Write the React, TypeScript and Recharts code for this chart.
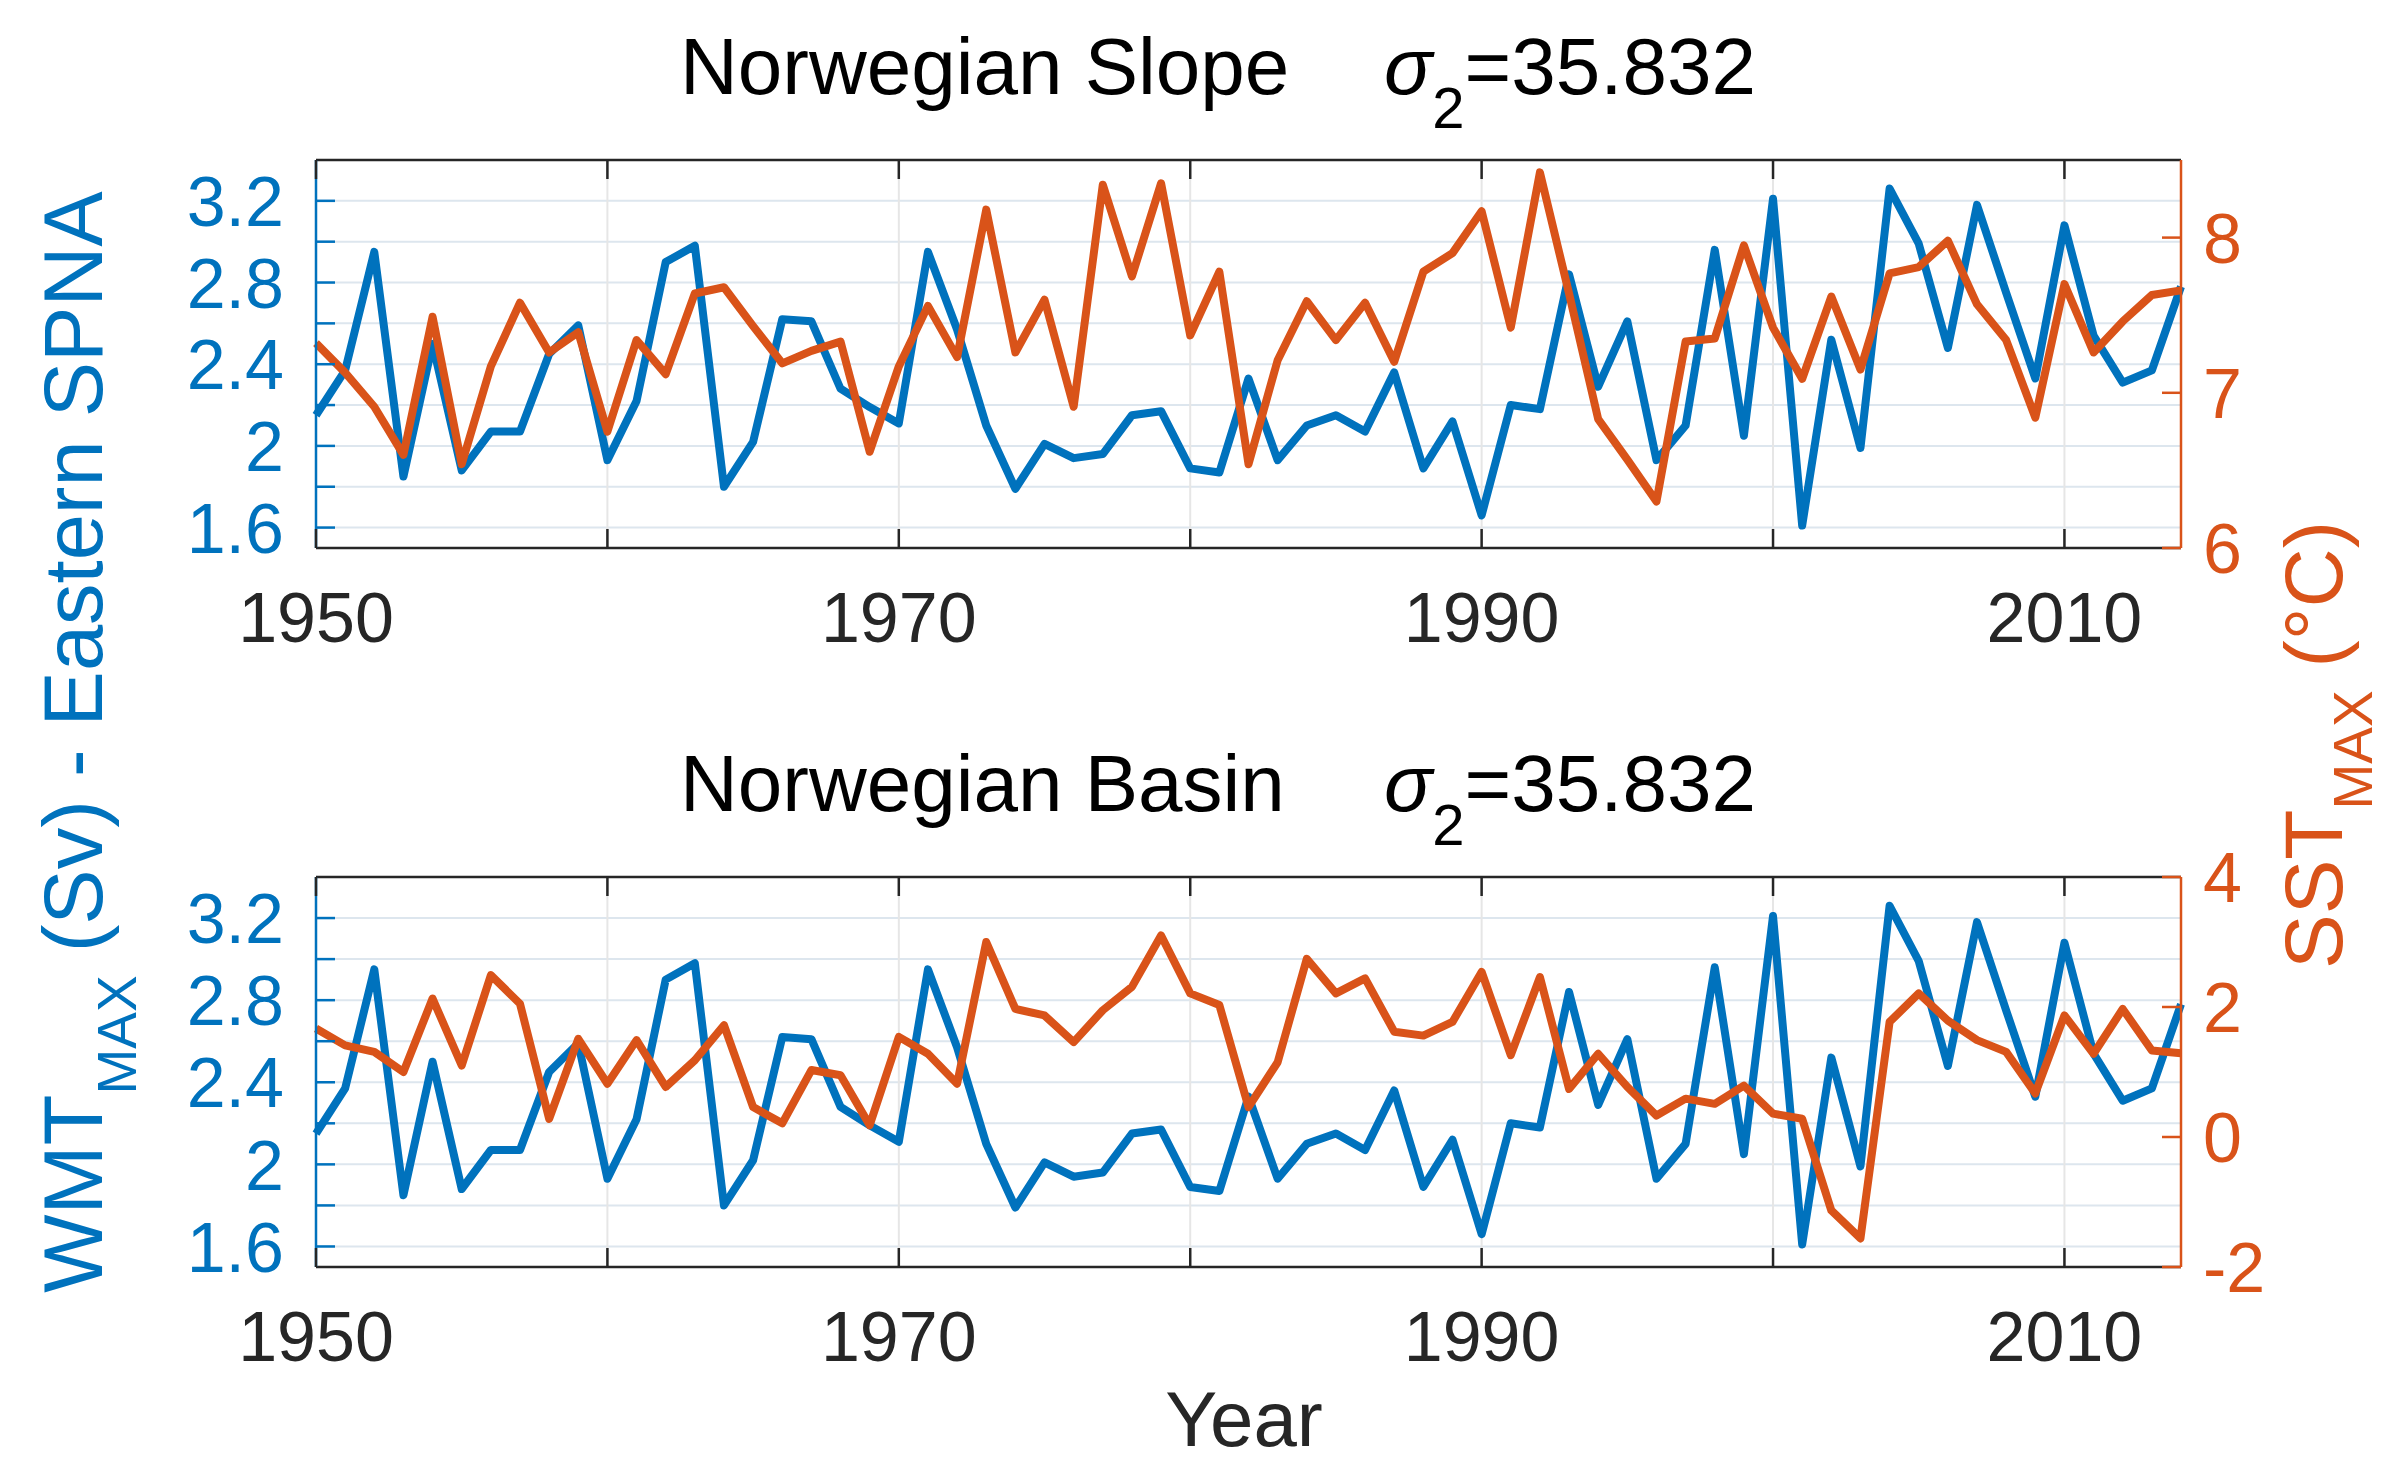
import React from 'react';
import { LineChart, Line, XAxis, YAxis, CartesianGrid } from 'recharts';

const FONT = '"Liberation Sans", Arial, Helvetica, sans-serif';
const BLUE = '#0072BD';
const ORANGE = '#D95319';
const DARK = '#262626';
const TICK = 19;

const years = [
  1950, 1951, 1952, 1953, 1954, 1955, 1956, 1957, 1958, 1959,
  1960, 1961, 1962, 1963, 1964, 1965, 1966, 1967, 1968, 1969,
  1970, 1971, 1972, 1973, 1974, 1975, 1976, 1977, 1978, 1979,
  1980, 1981, 1982, 1983, 1984, 1985, 1986, 1987, 1988, 1989,
  1990, 1991, 1992, 1993, 1994, 1995, 1996, 1997, 1998, 1999,
  2000, 2001, 2002, 2003, 2004, 2005, 2006, 2007, 2008, 2009,
  2010, 2011, 2012, 2013, 2014,
];

// WMT_MAX (Sv), Eastern SPNA - same series in both panels
const wmt = [
  2.15, 2.37, 2.95, 1.85, 2.50, 1.88, 2.07, 2.07, 2.45, 2.59,
  1.93, 2.22, 2.90, 2.98, 1.80, 2.02, 2.62, 2.61, 2.28, 2.19,
  2.11, 2.95, 2.57, 2.10, 1.79, 2.01, 1.94, 1.96, 2.15, 2.17,
  1.89, 1.87, 2.33, 1.93, 2.10, 2.15, 2.07, 2.36, 1.89, 2.12,
  1.66, 2.20, 2.18, 2.84, 2.29, 2.61, 1.93, 2.10, 2.96, 2.05,
  3.21, 1.61, 2.52, 1.99, 3.26, 2.99, 2.48, 3.18, 2.75, 2.33,
  3.08, 2.54, 2.31, 2.37, 2.78,
];

// SST_MAX (degC), Norwegian Slope
const sstSlope = [
  7.32, 7.13, 6.91, 6.60, 7.49, 6.54, 7.17, 7.58, 7.26, 7.39,
  6.75, 7.34, 7.12, 7.64, 7.68, 7.43, 7.19, 7.27, 7.33, 6.62,
  7.17, 7.56, 7.23, 8.18, 7.26, 7.60, 6.91, 8.34, 7.75, 8.35,
  7.37, 7.78, 6.54, 7.21, 7.59, 7.34, 7.58, 7.20, 7.78, 7.90,
  8.17, 7.42, 8.42, 7.64, 6.83, 6.57, 6.30, 7.33, 7.35, 7.95,
  7.42, 7.09, 7.62, 7.15, 7.77, 7.81, 7.98, 7.57, 7.34, 6.84,
  7.70, 7.26, 7.46, 7.63, 7.66,
];

// SST_MAX (degC), Norwegian Basin
const sstBasin = [
  1.67, 1.41, 1.31, 1.00, 2.13, 1.10, 2.49, 2.05, 0.28, 1.51,
  0.82, 1.49, 0.77, 1.18, 1.72, 0.46, 0.21, 1.03, 0.95, 0.18,
  1.54, 1.28, 0.82, 3.00, 1.97, 1.87, 1.46, 1.95, 2.31, 3.10,
  2.21, 2.03, 0.46, 1.15, 2.74, 2.21, 2.44, 1.62, 1.56, 1.77,
  2.54, 1.26, 2.46, 0.74, 1.28, 0.77, 0.33, 0.59, 0.51, 0.79,
  0.36, 0.28, -1.13, -1.56, 1.77, 2.21, 1.79, 1.49, 1.31, 0.67,
  1.87, 1.28, 1.97, 1.33, 1.29,
];

const yearTicks = [1950, 1960, 1970, 1980, 1990, 2000, 2010];
const yearLabels = [1950, 1970, 1990, 2010];
const wmtTicks = [1.6, 1.8, 2, 2.2, 2.4, 2.6, 2.8, 3, 3.2];
const wmtLabels = ['1.6', '2', '2.4', '2.8', '3.2'];
const slopeTicks = [6, 7, 8];
const basinTicks = [-2, 0, 2, 4];

const slopeData = years.map((year, i) => ({ year, wmt: wmt[i], sst: sstSlope[i] }));
const basinData = years.map((year, i) => ({ year, wmt: wmt[i], sst: sstBasin[i] }));

const W = 2385;
const H = 1463;
const PLOT_LEFT = 316;
const PLOT_RIGHT = 2181;
const AXIS_W = 60;
const AXIS_H = 30;

const BottomTick = ({ x, y, payload }: any) => (
  <g>
    <line x1={x} x2={x} y1={y} y2={y - TICK} stroke={DARK} strokeWidth={2.5} />
    {yearLabels.includes(payload.value) && (
      <text x={x} y={y + 94} textAnchor="middle" fontSize={70} fill={DARK} fontFamily={FONT}>
        {payload.value}
      </text>
    )}
  </g>
);

const TopTick = ({ x, y }: any) => (
  <line x1={x} x2={x} y1={y} y2={y + TICK} stroke={DARK} strokeWidth={2.5} />
);

const LeftTick = ({ x, y, payload }: any) => (
  <g>
    <line x1={x} x2={x + TICK} y1={y} y2={y} stroke={BLUE} strokeWidth={2.5} />
    {wmtLabels.includes(String(payload.value)) && (
      <text x={x - 32} y={y} dy="0.36em" textAnchor="end" fontSize={70} fill={BLUE} fontFamily={FONT}>
        {payload.value}
      </text>
    )}
  </g>
);

const RightTick = ({ x, y, payload }: any) => (
  <g>
    <line x1={x} x2={x - TICK} y1={y} y2={y} stroke={ORANGE} strokeWidth={2.5} />
    <text x={x + 22} y={y} dy="0.36em" textAnchor="start" fontSize={70} fill={ORANGE} fontFamily={FONT}>
      {payload.value}
    </text>
  </g>
);

interface PanelProps {
  data: Record<string, number>[];
  top: number;
  height: number;
  plotTop: number;
  plotBottom: number;
  rightDomain: [number, number];
  rightTicks: number[];
}

const Panel: React.FC<PanelProps> = ({ data, top, height, plotTop, plotBottom, rightDomain, rightTicks }) => (
  <div style={{ position: 'absolute', left: 0, top, width: W, height }}>
    <LineChart
      width={W}
      height={height}
      data={data}
      margin={{
        top: plotTop - top - AXIS_H,
        bottom: top + height - plotBottom - AXIS_H,
        left: PLOT_LEFT - AXIS_W,
        right: W - PLOT_RIGHT - AXIS_W,
      }}
    >
      <CartesianGrid yAxisId="left" vertical={false} stroke="#dde6ee" strokeWidth={2} horizontalValues={wmtTicks} />
      <CartesianGrid yAxisId="left" horizontal={false} stroke="#e6e6e6" strokeWidth={2} verticalValues={yearTicks} />
      <XAxis
        dataKey="year" type="number" domain={[1950, 2014]} ticks={yearTicks} interval={0}
        height={AXIS_H} tickSize={0} tickMargin={0} tick={BottomTick} tickLine={false}
        axisLine={{ stroke: DARK, strokeWidth: 2.5 }}
      />
      <XAxis
        xAxisId="top" orientation="top" dataKey="year" type="number" domain={[1950, 2014]}
        ticks={yearTicks} interval={0} height={AXIS_H} tickSize={0} tickMargin={0}
        tick={TopTick} tickLine={false} axisLine={{ stroke: DARK, strokeWidth: 2.5 }}
      />
      <YAxis
        yAxisId="left" type="number" domain={[1.5, 3.4]} ticks={wmtTicks} interval={0}
        width={AXIS_W} tickSize={0} tickMargin={0} tick={LeftTick} tickLine={false}
        axisLine={{ stroke: BLUE, strokeWidth: 2.5 }}
      />
      <YAxis
        yAxisId="right" orientation="right" type="number" domain={rightDomain} ticks={rightTicks}
        interval={0} width={AXIS_W} tickSize={0} tickMargin={0} tick={RightTick} tickLine={false}
        axisLine={{ stroke: ORANGE, strokeWidth: 2.5 }}
      />
      <Line yAxisId="left" dataKey="wmt" stroke={BLUE} strokeWidth={8} strokeLinejoin="round" dot={false} isAnimationActive={false} />
      <Line yAxisId="right" dataKey="sst" stroke={ORANGE} strokeWidth={8} strokeLinejoin="round" dot={false} isAnimationActive={false} />
    </LineChart>
  </div>
);

const Title = ({ y, name }: { y: number; name: string }) => (
  <text y={y} fontSize={80} fill="#000" fontFamily={FONT}>
    <tspan x={680}>{name}</tspan>
    <tspan x={1384} fontStyle="italic">σ</tspan>
    <tspan fontSize={58} dy={34}>2</tspan>
    <tspan dy={-34}>=35.832</tspan>
  </text>
);

const App: React.FC = () => (
  <div style={{ position: 'absolute', left: 0, top: 0, width: W, height: H, background: '#fff', overflow: 'hidden' }}>
    <Panel data={slopeData} top={0} height={710} plotTop={160} plotBottom={548} rightDomain={[6, 8.5]} rightTicks={slopeTicks} />
    <Panel data={basinData} top={710} height={753} plotTop={877} plotBottom={1267} rightDomain={[-2, 4]} rightTicks={basinTicks} />
    <svg width={W} height={H} style={{ position: 'absolute', left: 0, top: 0, pointerEvents: 'none' }}>
      <Title y={94} name="Norwegian Slope" />
      <Title y={811} name="Norwegian Basin" />
      <text x={1244} y={1446} textAnchor="middle" fontSize={78} fill={DARK} fontFamily={FONT}>Year</text>
      <text transform="translate(102 742) rotate(-90)" textAnchor="middle" fontSize={83} fill={BLUE} fontFamily={FONT}>
        WMT<tspan fontSize={55} dy={34}>MAX</tspan><tspan dy={-34}> (Sv) - Eastern SPNA</tspan>
      </text>
      <text transform="translate(2342 745) rotate(-90)" textAnchor="middle" fontSize={82} fill={ORANGE} fontFamily={FONT}>
        SST<tspan fontSize={55} dy={30}>MAX</tspan><tspan dy={-30}> (°C)</tspan>
      </text>
    </svg>
  </div>
);

export default App;
